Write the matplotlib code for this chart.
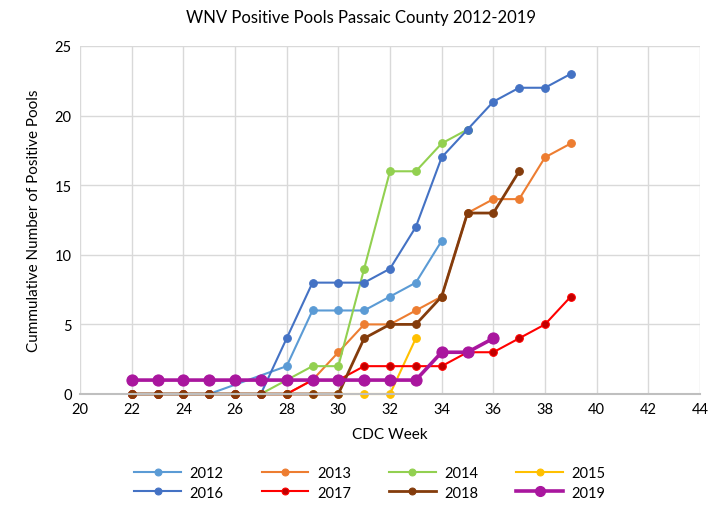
import matplotlib
matplotlib.use("Agg")
import matplotlib.pyplot as plt

plt.rcParams['font.family'] = ['Lato', 'DejaVu Sans']

title = "WNV Positive Pools Passaic County 2012-2019"
x_label = "CDC Week"
y_label = "Cummulative Number of Positive Pools"

weeks_2012 = [22, 23, 24, 25, 28, 29, 30, 31, 32, 33, 34]
vals_2012 = [0, 0, 0, 0, 2, 6, 6, 6, 7, 8, 11]

weeks_2013 = list(range(22, 40))
vals_2013 = [0, 0, 0, 0, 0, 0, 0, 1, 3, 5, 5, 6, 7, 13, 14, 14, 17, 18]

weeks_2014 = list(range(22, 36))
vals_2014 = [0, 0, 0, 0, 0, 0, 1, 2, 2, 9, 16, 16, 18, 19]

weeks_2015 = list(range(22, 34))
vals_2015 = [0, 0, 0, 0, 0, 0, 0, 0, 0, 0, 0, 4]

weeks_2016 = list(range(22, 40))
vals_2016 = [0, 0, 0, 0, 0, 0, 4, 8, 8, 8, 9, 12, 17, 19, 21, 22, 22, 23]

weeks_2017 = list(range(22, 40))
vals_2017 = [0, 0, 0, 0, 0, 0, 0, 1, 1, 2, 2, 2, 2, 3, 3, 4, 5, 7]

weeks_2018 = list(range(22, 38))
vals_2018 = [0, 0, 0, 0, 0, 0, 0, 0, 0, 4, 5, 5, 7, 13, 13, 16]

weeks_2019 = list(range(22, 37))
vals_2019 = [1, 1, 1, 1, 1, 1, 1, 1, 1, 1, 1, 1, 3, 3, 4]

series = [
    ("2012", weeks_2012, vals_2012, "#5B9BD5", "#5B9BD5", 1.5, 5.5),
    ("2013", weeks_2013, vals_2013, "#ED7D31", "#ED7D31", 1.5, 5.5),
    ("2014", weeks_2014, vals_2014, "#92D050", "#92D050", 1.5, 5.5),
    ("2015", weeks_2015, vals_2015, "#FFC000", "#FFC000", 1.5, 5.5),
    ("2016", weeks_2016, vals_2016, "#4472C4", "#4472C4", 1.5, 5.5),
    ("2017", weeks_2017, vals_2017, "#FF0000", "#C00000", 1.5, 5.5),
    ("2018", weeks_2018, vals_2018, "#843C0C", "#843C0C", 2.0, 5.5),
    ("2019", weeks_2019, vals_2019, "#A9169E", "#A9169E", 2.6, 8.0),
]

fig = plt.figure(figsize=(7.23, 5.06), dpi=100)
ax = fig.add_axes([80 / 723, 1 - 395 / 506, 620 / 723, 348 / 506])

handles = []
for name, xs, ys, lc, mc, lw, ms in series:
    h, = ax.plot(xs, ys, color=lc, lw=lw, marker='o', markersize=ms,
                 markerfacecolor=mc, markeredgecolor=mc if name != "2017" else "#FF0000",
                 markeredgewidth=0.8, label=name, clip_on=False)
    handles.append(h)

ax.set_xlim(20, 44)
ax.set_ylim(0, 25)
ax.set_xticks(range(20, 45, 2))
ax.set_yticks(range(0, 26, 5))
ax.grid(True, color="#D9D9D9", lw=1.0)
ax.set_axisbelow(True)
for s in ['top', 'right', 'left']:
    ax.spines[s].set_visible(False)
ax.spines['bottom'].set_color('#BFBFBF')
ax.spines['bottom'].set_linewidth(1.5)
ax.tick_params(length=0, labelsize=10.5, colors='#000000', pad=6)

ax.set_xlabel(x_label, fontsize=11, labelpad=8)
ax.set_ylabel(y_label, fontsize=11, labelpad=10)
fig.text(0.5, 1 - 18 / 506, title, ha='center', va='center', fontsize=12)

# row-major order for a 2x4 legend (matplotlib fills column-major)
order = [0, 4, 1, 5, 2, 6, 3, 7]
leg = fig.legend([handles[i] for i in order], [series[i][0] for i in order],
                 loc='center', bbox_to_anchor=(370 / 723, 1 - 484 / 506), ncol=4,
                 frameon=False, fontsize=10.5, columnspacing=2.6, handlelength=3.2,
                 handletextpad=0.6, labelspacing=0.35, borderpad=0, markerscale=0.9)

fig.savefig("out.png", dpi=100)
